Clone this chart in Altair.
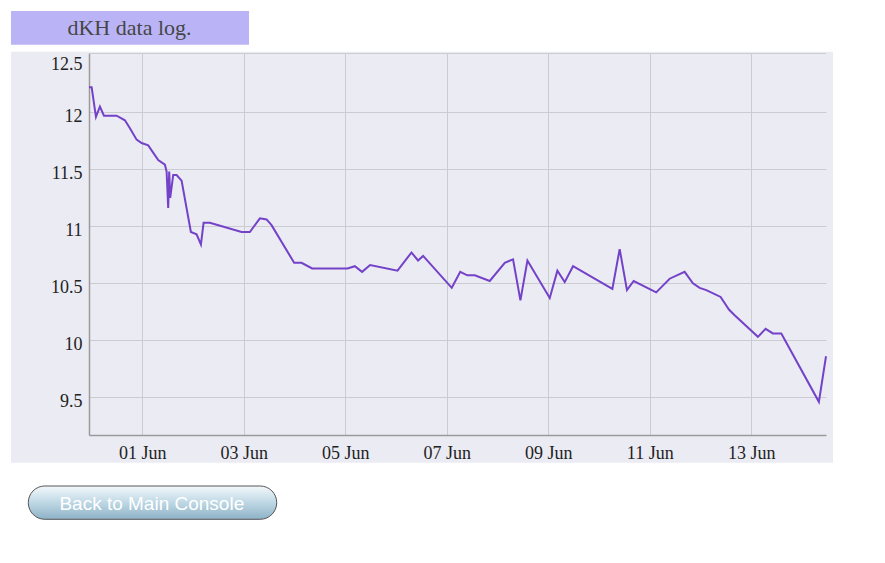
import altair as alt
import pandas as pd

# ---------------- data ----------------
times = [
    "2014-05-30T22:50", "2014-05-31T00:05", "2014-05-31T02:07", "2014-05-31T04:00",
    "2014-05-31T05:54", "2014-05-31T11:54", "2014-05-31T15:49", "2014-05-31T18:11",
    "2014-05-31T21:21", "2014-05-31T23:43", "2014-06-01T02:50", "2014-06-01T07:34",
    "2014-06-01T10:44", "2014-06-01T11:32", "2014-06-01T12:17", "2014-06-01T12:46",
    "2014-06-01T13:14", "2014-06-01T14:39", "2014-06-01T16:15", "2014-06-01T18:37",
    "2014-06-01T23:01", "2014-06-02T01:42", "2014-06-02T03:45", "2014-06-02T05:01",
    "2014-06-02T08:00", "2014-06-02T22:58", "2014-06-03T02:54", "2014-06-03T07:38",
    "2014-06-03T10:48", "2014-06-03T13:09", "2014-06-03T23:50", "2014-06-04T03:20",
    "2014-06-04T08:21", "2014-06-05T01:05", "2014-06-05T04:32", "2014-06-05T07:58",
    "2014-06-05T11:46", "2014-06-06T00:43", "2014-06-06T07:19", "2014-06-06T10:26",
    "2014-06-06T12:49", "2014-06-07T02:22", "2014-06-07T06:23", "2014-06-07T09:42",
    "2014-06-07T13:15", "2014-06-07T20:20", "2014-06-08T03:26", "2014-06-08T07:21",
    "2014-06-08T10:50", "2014-06-08T14:09", "2014-06-09T00:42", "2014-06-09T04:19",
    "2014-06-09T07:47", "2014-06-09T11:43", "2014-06-10T06:19", "2014-06-10T09:46",
    "2014-06-10T13:13", "2014-06-10T16:24", "2014-06-11T03:02", "2014-06-11T09:24",
    "2014-06-11T16:29", "2014-06-11T20:25", "2014-06-11T23:35", "2014-06-12T02:45",
    "2014-06-12T09:30", "2014-06-12T13:26", "2014-06-12T16:08", "2014-06-13T03:08",
    "2014-06-13T06:46", "2014-06-13T10:13", "2014-06-13T14:12", "2014-06-14T07:58",
    "2014-06-14T11:20",
]
dkh = [
    12.22, 12.22, 11.96, 12.05, 11.97, 11.97, 11.93, 11.86, 11.76, 11.73,
    11.71, 11.58, 11.54, 11.48, 11.16, 11.48, 11.25, 11.45, 11.45, 11.40,
    10.95, 10.93, 10.84, 11.03, 11.03, 10.95, 10.95, 11.07, 11.06, 11.01,
    10.68, 10.68, 10.63, 10.63, 10.65, 10.60, 10.66, 10.61, 10.77, 10.70,
    10.74, 10.46, 10.60, 10.57, 10.57, 10.52, 10.68, 10.71, 10.35, 10.70,
    10.37, 10.61, 10.51, 10.65, 10.45, 10.80, 10.44, 10.52, 10.42, 10.54,
    10.60, 10.50, 10.46, 10.44, 10.38, 10.27, 10.22, 10.03, 10.10, 10.06,
    10.06, 9.46, 9.86,
]
x_tick_days = [1, 3, 5, 7, 9, 11, 13]          # June
y_ticks = [9.5, 10, 10.5, 11, 11.5, 12, 12.5]
y_domain = [9.169, 12.52]
title_text = "dKH data log."
button_text = "Back to Main Console"

# ---------------- styling ----------------
W, H = 737, 382
PAD = {"left": 81, "top": 45, "right": 51, "bottom": 90}
LAV = "#ebebf3"
BOX = "#bab4f7"
LINE = "#7442c8"
GRID = "#cbcbd0"
SERIF = "Liberation Serif"
SANS = "Liberation Sans"

df = pd.DataFrame({"time": times, "dKH": dkh})
one = pd.DataFrame({"k": [0]})

line = alt.Chart(df).mark_line(color=LINE, strokeWidth=2).encode(
    x=alt.X(
        "time:T",
        scale=alt.Scale(nice=False),
        axis=alt.Axis(
            values=[alt.DateTime(year=2014, month=6, date=d) for d in x_tick_days],
            format="%d %b", title=None, ticks=False, labelPadding=9,
            labelFont=SERIF, labelFontSize=18, labelColor="#222222",
            labelBaseline="top", labelFlush=False,
            domainColor="#9a9a9a", domainWidth=1.5,
            gridColor=GRID, gridWidth=1,
        ),
    ),
    y=alt.Y(
        "dKH:Q",
        scale=alt.Scale(domain=y_domain, nice=False, zero=False),
        axis=alt.Axis(
            values=y_ticks, format="~g", title=None, ticks=False, labelPadding=7,
            labelFont=SERIF, labelFontSize=18, labelColor="#222222",
            labelBaseline="middle", labelFlush=False,
            labelOffset={"condition": {"test": "datum.value == 12.5", "value": 9}, "value": 4},
            gridOpacity={"condition": {"test": "datum.value == 12.5", "value": 0}, "value": 1},
            domainColor="#9a9a9a", domainWidth=1.5,
            gridColor=GRID, gridWidth=1,
        ),
    ),
)


def box(x, x2, y, y2, **kw):
    return alt.Chart(one).mark_rect(**kw).encode(
        x=alt.value(x), x2=alt.value(x2), y=alt.value(y), y2=alt.value(y2)
    )


# white surroundings of the lavender chart panel
cover_top = box(-90, 800, -60, -1.3, color="white")
cover_bottom = box(-90, 800, 409.7, 480, color="white")
cover_left = box(-90, -78, -60, 480, color="white")
cover_right = box(744, 800, -60, 480, color="white")

top_rule = alt.Chart(one).mark_rule(color=GRID, strokeWidth=1).encode(
    x=alt.value(0), x2=alt.value(W), y=alt.value(0.5)
)

title_box = box(-78, 160, -42, -8.3, color=BOX)
title = alt.Chart(one).mark_text(
    text=title_text, font=SERIF, fontSize=22, color="#464646",
    align="center", baseline="alphabetic",
).encode(x=alt.value(40.5), y=alt.value(-18))

button = box(
    -60.7, 187.7, 433, 466.3,
    cornerRadius=16.5, stroke="#555555", strokeWidth=1,
    fill=alt.Gradient(
        gradient="linear", x1=0, y1=0, x2=0, y2=1,
        stops=[
            alt.GradientStop(offset=0, color="#f3f8fb"),
            alt.GradientStop(offset=0.45, color="#c4dbe7"),
            alt.GradientStop(offset=1, color="#8db2c6"),
        ],
    ),
)
button_label = alt.Chart(one).mark_text(
    text=button_text, font=SANS, fontSize=19, color="white",
    align="center", baseline="alphabetic",
).encode(x=alt.value(62.8), y=alt.value(457))

chart = alt.layer(
    line, cover_top, cover_bottom, cover_left, cover_right, top_rule,
    title_box, title, button, button_label,
).properties(
    width=W, height=H, padding=PAD,
    autosize=alt.AutoSizeParams(type="none"),
    background=LAV,
).configure_view(strokeWidth=0)

chart.save("out.html", embed_options={"renderer": "svg", "actions": False})
